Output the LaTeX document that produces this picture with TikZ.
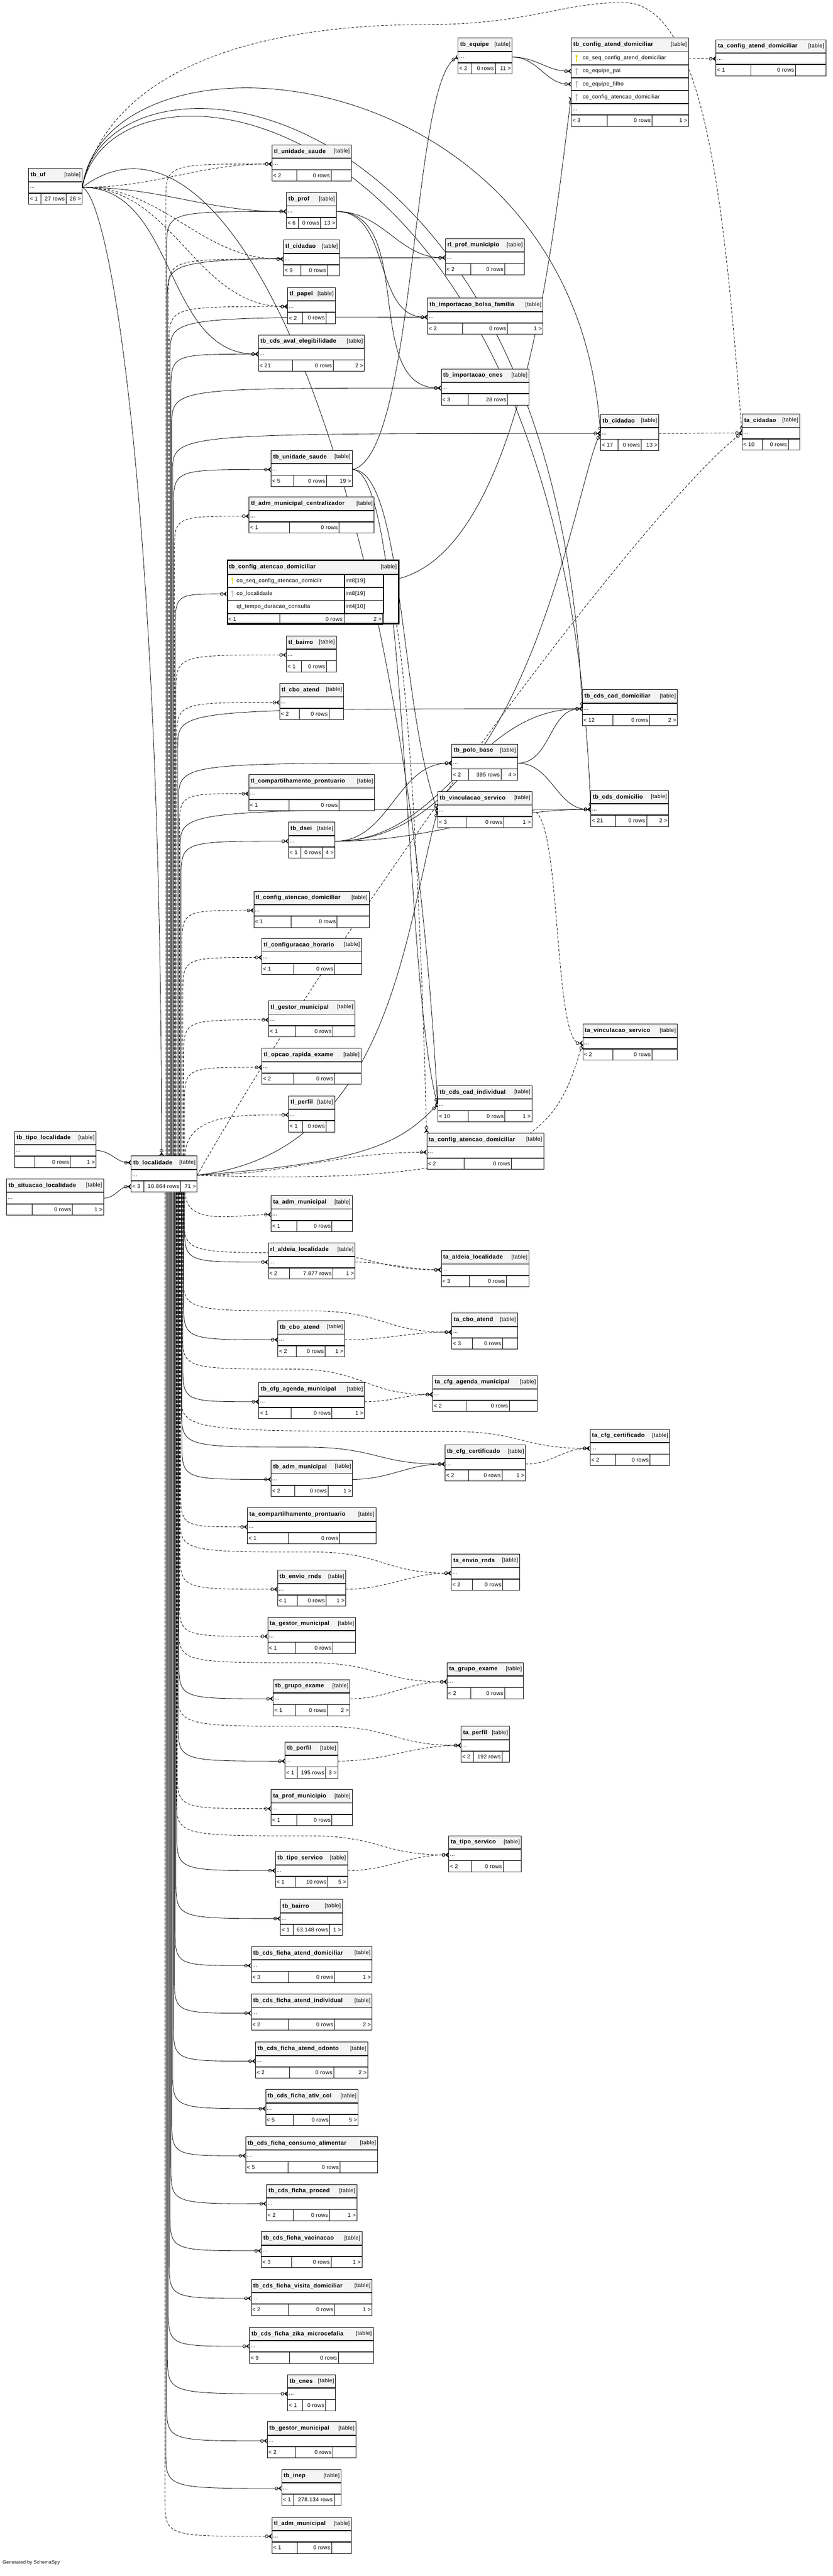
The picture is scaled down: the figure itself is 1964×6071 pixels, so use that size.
\documentclass[tikz,border=0pt]{standalone}
\usepackage{fontspec}
\setmainfont{Liberation Sans}[LetterSpace=3]
\usetikzlibrary{arrows.meta, positioning, calc}
\pgfdeclarelayer{bg}
\pgfdeclarelayer{edges}
\pgfsetlayers{bg,edges,main}

\definecolor{hdrgray}{RGB}{244,244,244}
\definecolor{pkyellow}{RGB}{230,215,0}
\definecolor{fkgray}{RGB}{185,185,185}

\tikzstyle{hdr} = [rectangle, draw=black, line width=1pt, fill=hdrgray, minimum height=31pt, anchor=north west, inner sep=0pt]
\tikzstyle{cell} = [rectangle, draw=black, line width=1pt, fill=white, minimum height=26pt, anchor=north west, inner sep=0pt]
\tikzstyle{fld} = [cell, minimum height=29.5pt]
\tikzstyle{txt} = [inner sep=0pt, font=\fontsize{13}{15}\selectfont]
\tikzstyle{ttl} = [inner sep=0pt, font=\fontsize{13.7}{15}\selectfont\bfseries]
\tikzstyle{divline} = [line width=1pt]
\tikzstyle{fk} = [line width=1pt, -{Circle[open,length=8pt,width=8pt] Stealth[reversed,length=8pt,width=12pt]}]
\tikzstyle{imp} = [fk, dash pattern=on 6pt off 4pt]

% footer cells: id, left, rows, right, split a, split b
\newcommand{\footcells}[6]{%
  \draw[divline] ($(#1-f.north west)+(#5,0)$) -- ($(#1-f.south west)+(#5,0)$);
  \draw[divline] ($(#1-f.north west)+(#6,0)$) -- ($(#1-f.south west)+(#6,0)$);
  \node[txt, anchor=west] (#1-l) at ([xshift=3pt]#1-f.west) {#2};
  \node[txt, anchor=east] (#1-c) at ($(#1-f.west)+(#6-3,0)$) {#3};
  \node[txt, anchor=east] (#1-r) at ([xshift=-3pt]#1-f.east) {#4};
}
% table: id, x, y, width, name, left, rows, right, splits
\newcommand{\tbl}[9]{%
  \node[hdr, minimum width=#4pt] (#1-h) at (#2,#3) {};
  \node[ttl, anchor=west] (#1-n) at ([xshift=5pt]#1-h.west) {#5};
  \node[txt, anchor=east] (#1-k) at ([xshift=-4pt]#1-h.east) {[table]};
  \node[cell, minimum width=#4pt] (#1-d) at (#1-h.south west) {};
  \node[txt, anchor=west] (#1-e) at ([xshift=3pt,yshift=-2pt]#1-d.west) {...};
  \node[cell, minimum width=#4pt] (#1-f) at (#1-d.south west) {};
  \foreach \sa/\sb in {#9} {\footcells{#1}{#6}{#7}{#8}{\sa}{\sb}}
}
\newcommand{\keyicon}[2]{%
  \fill[#1] ([xshift=13pt,yshift=5pt]#2.west) circle (2.6pt);
  \draw[#1, line width=1.5pt] ([xshift=13pt,yshift=5pt]#2.west) -- ([xshift=13pt,yshift=-8pt]#2.west);
}
% bundle line: style, start, end, offset in bundle
\newcommand{\via}[4]{\draw[#1] ([xshift=#4pt]#2) -- ($([xshift=#4pt]#2 |- #3)!90pt!([xshift=#4pt]#2)$) .. controls ([xshift=#4pt]#2 |- #3) .. (#3);}
% bundle line passing over a table: style, start, end, offset, lift
\newcommand{\viab}[5]{\draw[#1] ([xshift=#4pt]#2) -- ($([xshift=#4pt]#2 |- #3)+(0,-#5-90)$) .. controls ($([xshift=#4pt]#2 |- #3)+(0,-#5)$) .. ($(#3)+(-330,-#5)$) .. controls ($(#3)+(-160,-#5)$) and ($(#3)+(-160,0)$) .. (#3);}
\newcommand{\lnk}[3]{\draw[#1] (#2) to[out=0,in=180] (#3);}

\begin{document}
\begin{tikzpicture}[x=1pt, y=-1pt]
\useasboundingbox (0,0) rectangle (1964,6071);
\begin{pgfonlayer}{bg}
\fill[white] (0,0) rectangle (1964,6071);
\end{pgfonlayer}

% Nodes
\tbl{uf}{67}{396}{126}{tb\_uf}{< 1}{27 rows}{26 >}{30/89}
\tbl{equipe}{1080}{89}{127}{tb\_equipe}{< 2}{0 rows}{11 >}{33/88}
\tbl{tacfg}{1688}{93}{259}{ta\_config\_atend\_domiciliar}{< 1}{0 rows}{}{83/188}
\tbl{tlus}{641}{341}{187}{tl\_unidade\_saude}{< 2}{0 rows}{}{59/140}
\tbl{prof}{675}{453}{118}{tb\_prof}{< 6}{0 rows}{13 >}{29/81}
\tbl{tlcid}{668}{565}{132}{tl\_cidadao}{< 9}{0 rows}{}{41/104}
\tbl{papel}{678}{677}{112}{tl\_papel}{< 2}{0 rows}{}{35/91}
\tbl{aval}{609}{789}{250}{tb\_cds\_aval\_elegibilidade}{< 21}{0 rows}{2 >}{81/177}
\tbl{rlpm}{1050}{562}{186}{rl\_prof\_municipio}{< 2}{0 rows}{}{60/140}
\tbl{bolsa}{1008}{702}{272}{tb\_importacao\_bolsa\_familia}{< 2}{0 rows}{1 >}{83/189}
\tbl{icnes}{1040}{869}{207}{tb\_importacao\_cnes}{< 3}{28 rows}{}{64/157}
\tbl{cid}{1416}{976}{137}{tb\_cidadao}{< 17}{0 rows}{13 >}{41/96}
\tbl{tacid}{1750}{975}{136}{ta\_cidadao}{< 10}{0 rows}{}{48/109}
\tbl{us}{639}{1061}{191}{tb\_unidade\_saude}{< 5}{0 rows}{19 >}{54/131}
\tbl{tlamc}{587}{1171}{295}{tl\_adm\_municipal\_centralizador}{< 1}{0 rows}{}{96/213}
\tbl{tlbai}{675}{1498}{118}{tl\_bairro}{< 1}{0 rows}{}{36/95}
\tbl{tlcbo}{659}{1610}{151}{tl\_cbo\_atend}{< 2}{0 rows}{}{47/117}
\tbl{ccd}{1373}{1625}{224}{tb\_cds\_cad\_domiciliar}{< 12}{0 rows}{2 >}{72/159}
\tbl{polo}{1065}{1753}{155}{tb\_polo\_base}{< 2}{395 rows}{4 >}{41/117}
\tbl{tlcp}{586}{1825}{297}{tl\_compartilhamento\_prontuario}{< 1}{0 rows}{}{96/214}
\tbl{vs}{1032}{1865}{222}{tb\_vinculacao\_servico}{< 3}{0 rows}{1 >}{67/156}
\tbl{dom}{1393}{1862}{183}{tb\_cds\_domicilio}{< 21}{0 rows}{2 >}{59/132}
\tbl{dsei}{680}{1937}{109}{tb\_dsei}{< 1}{0 rows}{4 >}{29/81}
\tbl{tlcad}{598}{2100}{272}{tl\_config\_atencao\_domiciliar}{< 1}{0 rows}{}{88/197}
\tbl{tlch}{617}{2211}{235}{tl\_configuracao\_horario}{< 1}{0 rows}{}{75/172}
\tbl{tlgm}{633}{2358}{203}{tl\_gestor\_municipal}{< 1}{0 rows}{}{65/152}
\tbl{tlore}{617}{2470}{234}{tl\_opcao\_rapida\_exame}{< 2}{0 rows}{}{75/172}
\tbl{tlper}{680}{2582}{109}{tl\_perfil}{< 1}{0 rows}{}{33/89}
\tbl{tavs}{1374}{2413}{223}{ta\_vinculacao\_servico}{< 2}{0 rows}{}{71/164}
\tbl{cci}{1032}{2558}{222}{tb\_cds\_cad\_individual}{< 10}{0 rows}{1 >}{72/159}
\tbl{tacad}{1006}{2670}{276}{ta\_config\_atencao\_domiciliar}{< 2}{0 rows}{}{89/200}
\tbl{tipo}{34}{2666}{192}{tb\_tipo\_localidade}{}{0 rows}{1 >}{48/132}
\tbl{sit}{15}{2778}{229}{tb\_situacao\_localidade}{}{0 rows}{1 >}{61/156}
\tbl{loc}{309}{2724}{155}{tb\_localidade}{< 3}{10.864 rows}{71 >}{30/117}
\tbl{taam}{639}{2817}{191}{ta\_adm\_municipal}{< 1}{0 rows}{}{61/144}
\tbl{rlal}{632}{2929}{205}{rl\_aldeia\_localidade}{< 2}{7.877 rows}{1 >}{51/153}
\tbl{taal}{1040}{2947}{207}{ta\_aldeia\_localidade}{< 3}{0 rows}{}{67/154}
\tbl{cbo}{655}{3112}{157}{tb\_cbo\_atend}{< 2}{0 rows}{1 >}{44/112}
\tbl{tacbo}{1065}{3094}{155}{ta\_cbo\_atend}{< 3}{0 rows}{}{49/120}
\tbl{cam}{610}{3258}{249}{tb\_cfg\_agenda\_municipal}{< 1}{0 rows}{1 >}{76/173}
\tbl{tacam}{1020}{3241}{247}{ta\_cfg\_agenda\_municipal}{< 2}{0 rows}{}{79/181}
\tbl{tacc}{1391}{3368}{188}{ta\_cfg\_certificado}{< 2}{0 rows}{}{60/142}
\tbl{cc}{1049}{3405}{190}{tb\_cfg\_certificado}{< 2}{0 rows}{1 >}{56/135}
\tbl{am}{639}{3441}{192}{tb\_adm\_municipal}{< 2}{0 rows}{1 >}{56/135}
\tbl{tacp}{583}{3553}{303}{ta\_compartilhamento\_prontuario}{< 1}{0 rows}{}{98/218}
\tbl{taer}{1064}{3662}{161}{ta\_envio\_rnds}{< 2}{0 rows}{}{50/122}
\tbl{er}{654}{3700}{161}{tb\_envio\_rnds}{< 1}{0 rows}{1 >}{47/115}
\tbl{tagm}{631}{3811}{207}{ta\_gestor\_municipal}{< 1}{0 rows}{}{67/154}
\tbl{tage}{1054}{3918}{180}{ta\_grupo\_exame}{< 2}{0 rows}{}{56/136}
\tbl{ge}{644}{3958}{181}{tb\_grupo\_exame}{< 1}{0 rows}{2 >}{54/128}
\tbl{taper}{1087}{4068}{114}{ta\_perfil}{< 2}{192 rows}{}{29/97}
\tbl{per}{672}{4105}{124}{tb\_perfil}{< 1}{195 rows}{3 >}{29/96}
\tbl{tapm}{639}{4217}{191}{ta\_prof\_municipio}{< 1}{0 rows}{}{61/144}
\tbl{tats}{1058}{4326}{171}{ta\_tipo\_servico}{< 2}{0 rows}{}{54/129}
\tbl{ts}{649}{4363}{170}{tb\_tipo\_servico}{< 1}{10 rows}{5 >}{47/124}
\tbl{bai}{661}{4476}{146}{tb\_bairro}{< 1}{63.148 rows}{1 >}{30/116}
\tbl{fad}{592}{4587}{285}{tb\_cds\_ficha\_atend\_domiciliar}{< 3}{0 rows}{1 >}{88/197}
\tbl{fai}{592}{4699}{285}{tb\_cds\_ficha\_atend\_individual}{< 2}{0 rows}{2 >}{88/197}
\tbl{fao}{602}{4812}{265}{tb\_cds\_ficha\_atend\_odonto}{< 2}{0 rows}{2 >}{81/185}
\tbl{fac}{626}{4924}{218}{tb\_cds\_ficha\_ativ\_col}{< 5}{0 rows}{5 >}{65/152}
\tbl{fca}{579}{5035}{311}{tb\_cds\_ficha\_consumo\_alimentar}{< 5}{0 rows}{}{100/223}
\tbl{fpr}{628}{5148}{213}{tb\_cds\_ficha\_proced}{< 2}{0 rows}{1 >}{63/149}
\tbl{fva}{616}{5259}{237}{tb\_cds\_ficha\_vacinacao}{< 3}{0 rows}{1 >}{72/165}
\tbl{fvd}{592}{5371}{285}{tb\_cds\_ficha\_visita\_domiciliar}{< 2}{0 rows}{1 >}{88/197}
\tbl{fzm}{588}{5484}{292}{tb\_cds\_ficha\_zika\_microcefalia}{< 9}{0 rows}{}{95/210}
\tbl{cnes}{678}{5596}{113}{tb\_cnes}{< 1}{0 rows}{}{35/90}
\tbl{gm}{630}{5707}{209}{tb\_gestor\_municipal}{< 2}{0 rows}{}{67/155}
\tbl{inep}{664}{5819}{140}{tb\_inep}{< 1}{278.134 rows}{}{29/124}
\tbl{tlam}{641}{5932}{187}{tl\_adm\_municipal}{< 1}{0 rows}{}{60/141}

% tb_config_atend_domiciliar (columns shown)
\node[hdr, minimum width=276pt, minimum height=32pt] (cfg-h) at (1347,89) {};
\node[ttl, anchor=west] (cfg-n) at ([xshift=5pt]cfg-h.west) {tb\_config\_atend\_domiciliar};
\node[txt, anchor=east] (cfg-k) at ([xshift=-4pt]cfg-h.east) {[table]};
\node[fld, minimum width=276pt] (cfg-r1) at (cfg-h.south west) {};
\node[fld, minimum width=276pt] (cfg-r2) at (cfg-r1.south west) {};
\node[fld, minimum width=276pt] (cfg-r3) at (cfg-r2.south west) {};
\node[fld, minimum width=276pt] (cfg-r4) at (cfg-r3.south west) {};
\node[cell, minimum width=276pt] (cfg-d) at (cfg-r4.south west) {};
\node[txt, anchor=west] (cfg-e) at ([xshift=3pt,yshift=-2pt]cfg-d.west) {...};
\node[cell, minimum width=276pt] (cfg-f) at (cfg-d.south west) {};
\footcells{cfg}{< 3}{0 rows}{1 >}{85}{191}
\foreach \r/\t/\c in {cfg-r1/co\_seq\_config\_atend\_domiciliar/pkyellow, cfg-r2/co\_equipe\_pai/fkgray, cfg-r3/co\_equipe\_filho/fkgray, cfg-r4/co\_config\_atencao\_domiciliar/fkgray} {
  \node[txt, anchor=west] (\r-t) at ([xshift=27pt]\r.west) {\t};
  \keyicon{\c}{\r}
}

% tb_config_atencao_domiciliar (focus table)
\node[hdr, minimum width=404pt, minimum height=34pt] (cad-h) at (535,1319) {};
\node[ttl, anchor=west] (cad-n) at ([xshift=5pt]cad-h.west) {tb\_config\_atencao\_domiciliar};
\node[txt, anchor=east] (cad-k) at ([xshift=-4pt]cad-h.east) {[table]};
\node[fld, minimum width=276pt] (cad-r1) at (cad-h.south west) {};
\node[fld, minimum width=276pt] (cad-r2) at (cad-r1.south west) {};
\node[fld, minimum width=276pt] (cad-r3) at (cad-r2.south west) {};
\node[fld, minimum width=91pt] (cad-t1) at (cad-r1.north east) {};
\node[fld, minimum width=91pt] (cad-t2) at (cad-r2.north east) {};
\node[fld, minimum width=91pt] (cad-t3) at (cad-r3.north east) {};
\node[cell, minimum width=367pt, minimum height=26.5pt] (cad-f) at (cad-r3.south west) {};
\node[cell, minimum width=37pt, minimum height=115pt] (cad-x) at (cad-t1.north east) {};
\footcells{cad}{< 1}{0 rows}{2 >}{125}{276}
\foreach \r/\t in {cad-r1/co\_seq\_config\_atencao\_domicilr, cad-r2/co\_localidade, cad-r3/qt\_tempo\_duracao\_consulta} {
  \node[txt, anchor=west] (\r-t) at ([xshift=23pt]\r.west) {\t};
}
\node[txt, anchor=west] (cad-t1-t) at ([xshift=3pt]cad-t1.west) {int8[19]};
\node[txt, anchor=west] (cad-t2-t) at ([xshift=3pt]cad-t2.west) {int8[19]};
\node[txt, anchor=west] (cad-t3-t) at ([xshift=3pt]cad-t3.west) {int4[10]};
\keyicon{pkyellow}{cad-r1}
\keyicon{fkgray}{cad-r2}
\node[draw, line width=3pt, minimum width=404pt, minimum height=149pt, anchor=north west, inner sep=0pt] (cad) at (535,1319) {};

\coordinate (loc-in) at ([xshift=-6pt]loc-h.north);
\coordinate (loc-up) at ([xshift=2pt]loc-h.north);
\coordinate (loc-dn) at ([xshift=2pt]loc-f.south);
\coordinate (arc-a) at (1000,58);
\coordinate (arc-b) at (1470,6);

\node[anchor=west, inner sep=0pt, font=\fontsize{11}{13}\selectfont] (gen) at (6,6040) {Generated by SchemaSpy};

% Arrows
\begin{pgfonlayer}{edges}
% from tb_uf
\lnk{imp}{uf-d.east}{tlus-d.west}
\lnk{fk}{uf-d.east}{prof-d.west}
\lnk{imp}{uf-d.east}{tlcid-d.west}
\lnk{imp}{uf-d.east}{papel-d.west}
\lnk{fk}{uf-d.east}{aval-d.west}
\draw[fk] (uf-d.east) .. controls +(60,-410) and +(-60,-900) .. (cid-d.west);
\draw[fk] (uf-d.east) .. controls +(60,-380) and +(-60,-1500) .. (ccd-d.west);
\draw[fk] (uf-d.east) .. controls +(70,-360) and +(-60,-1720) .. (dom-d.west);
\draw[fk] (uf-d.east) .. controls +(350,-260) and +(-80,-1500) .. (cci-d.west);
\draw[fk] (uf-d.east) .. controls +(70,30) and +(0,-1500) .. (loc-in);
\draw[imp] (uf-d.east) .. controls +(70,-300) and +(-350,0) .. (arc-a) .. controls +(250,0) and +(-150,0) .. (arc-b) .. controls +(200,0) and +(-40,-500) .. (tacid-d.west);

% from tb_localidade, upwards
\draw[imp] ([xshift=48pt]loc-up) to[out=90,in=180] (tlper-d.west);
\via{imp}{loc-up}{tlore-d.west}{46}
\via{imp}{loc-up}{tlgm-d.west}{44}
\via{imp}{loc-up}{tlch-d.west}{42}
\via{imp}{loc-up}{tlcad-d.west}{40}
\via{fk}{loc-up}{dsei-d.west}{38}
\via{fk}{loc-up}{dom-d.west}{36}
\via{imp}{loc-up}{tlcp-d.west}{34}
\via{fk}{loc-up}{polo-d.west}{32}
\via{fk}{loc-up}{ccd-d.west}{30}
\via{imp}{loc-up}{tlcbo-d.west}{28}
\via{imp}{loc-up}{tlbai-d.west}{26}
\via{fk}{loc-up}{cad-r2.west}{24}
\via{imp}{loc-up}{tlamc-d.west}{22}
\via{fk}{loc-up}{us-d.west}{20}
\via{fk}{loc-up}{cid-d.west}{18}
\via{fk}{loc-up}{icnes-d.west}{16}
\via{fk}{loc-up}{aval-d.west}{14}
\via{fk}{loc-up}{bolsa-d.west}{12}
\via{imp}{loc-up}{papel-d.west}{10}
\via{imp}{loc-up}{tlcid-d.west}{8}
\via{fk}{loc-up}{rlpm-d.west}{6}
\via{fk}{loc-up}{prof-d.west}{4}
\via{imp}{loc-up}{tlus-d.west}{2}

% from tb_localidade, sideways
\draw[imp] (loc-d.east) .. controls +(400,-700) and +(-200,150) .. (tacid-d.west);
\draw[fk] (loc-d.east) .. controls +(450,-50) and +(-80,300) .. (vs-d.west);
\draw[fk] (loc-d.east) .. controls +(420,-30) and +(-80,80) .. (cci-d.west);
\draw[imp] (loc-d.east) .. controls +(800,30) and +(-60,200) .. (tavs-d.west);
\lnk{imp}{loc-d.east}{tacad-d.west}

% from tb_localidade, downwards
\draw[imp] ([xshift=48pt]loc-dn) to[out=-90,in=180] (taam-d.west);
\via{fk}{loc-dn}{rlal-d.west}{46}
\viab{imp}{loc-dn}{taal-d.west}{45}{40}
\via{fk}{loc-dn}{cbo-d.west}{44}
\viab{imp}{loc-dn}{tacbo-d.west}{43}{50}
\via{fk}{loc-dn}{cam-d.west}{42}
\viab{imp}{loc-dn}{tacam-d.west}{41}{60}
\via{fk}{loc-dn}{am-d.west}{40}
\viab{fk}{loc-dn}{cc-d.west}{39}{40}
\viab{imp}{loc-dn}{tacc-d.west}{38}{40}
\via{imp}{loc-dn}{tacp-d.west}{37}
\via{imp}{loc-dn}{er-d.west}{36}
\viab{imp}{loc-dn}{taer-d.west}{35}{50}
\via{imp}{loc-dn}{tagm-d.west}{34}
\via{fk}{loc-dn}{ge-d.west}{33}
\viab{imp}{loc-dn}{tage-d.west}{32}{45}
\via{fk}{loc-dn}{per-d.west}{31}
\viab{imp}{loc-dn}{taper-d.west}{30}{45}
\via{imp}{loc-dn}{tapm-d.west}{29}
\via{fk}{loc-dn}{ts-d.west}{28}
\viab{imp}{loc-dn}{tats-d.west}{27}{45}
\via{fk}{loc-dn}{bai-d.west}{26}
\via{fk}{loc-dn}{fad-d.west}{24}
\via{fk}{loc-dn}{fai-d.west}{22}
\via{fk}{loc-dn}{fao-d.west}{20}
\via{fk}{loc-dn}{fac-d.west}{18}
\via{fk}{loc-dn}{fca-d.west}{16}
\via{fk}{loc-dn}{fpr-d.west}{14}
\via{fk}{loc-dn}{fva-d.west}{12}
\via{fk}{loc-dn}{fvd-d.west}{10}
\via{fk}{loc-dn}{fzm-d.west}{8}
\via{fk}{loc-dn}{cnes-d.west}{6}
\via{fk}{loc-dn}{gm-d.west}{4}
\via{fk}{loc-dn}{inep-d.west}{2}
\via{imp}{loc-dn}{tlam-d.west}{0}

% into tb_localidade
\lnk{fk}{tipo-d.east}{loc-h.west}
\lnk{fk}{sit-d.east}{loc-f.west}

% other tables
\lnk{fk}{prof-d.east}{rlpm-d.west}
\lnk{fk}{prof-d.east}{bolsa-d.west}
\lnk{fk}{prof-d.east}{icnes-d.west}
\lnk{imp}{cid-d.east}{tacid-d.west}
\draw[fk] (us-d.east) .. controls +(150,-30) and +(-110,60) .. (equipe-d.west);
\draw[fk] (us-d.east) .. controls +(120,0) and +(-90,-250) .. (vs-d.west);
\draw[fk] (us-d.east) .. controls +(130,0) and +(-80,-300) .. (cci-d.west);
\lnk{fk}{equipe-d.east}{cfg-r2.west}
\lnk{fk}{equipe-d.east}{cfg-r3.west}
\lnk{imp}{cfg-r1.east}{tacfg-d.west}
\draw[fk] (cad-t1.east) .. controls +(330,-20) and +(-40,300) .. (cfg-r4.west);
\draw[imp] (cad-t1.east) .. controls +(60,40) and +(-10,-400) .. (tacad-h.north west);
\lnk{fk}{dsei-d.east}{polo-d.west}
\lnk{fk}{dsei-d.east}{ccd-d.west}
\lnk{fk}{dsei-d.east}{dom-d.west}
\draw[fk] (dsei-d.east) .. controls +(450,0) and +(-60,120) .. (cid-d.west);
\lnk{fk}{polo-d.east}{ccd-d.west}
\lnk{fk}{polo-d.east}{dom-d.west}
\draw[imp] (vs-d.east) .. controls +(70,0) and +(-70,0) .. (tavs-d.west);
\lnk{imp}{rlal-d.east}{taal-d.west}
\lnk{imp}{cbo-d.east}{tacbo-d.west}
\lnk{imp}{cam-d.east}{tacam-d.west}
\lnk{fk}{am-d.east}{cc-d.west}
\lnk{imp}{cc-d.east}{tacc-d.west}
\lnk{imp}{er-d.east}{taer-d.west}
\lnk{imp}{ge-d.east}{tage-d.west}
\lnk{imp}{per-d.east}{taper-d.west}
\lnk{imp}{ts-d.east}{tats-d.west}
\end{pgfonlayer}

\end{tikzpicture}
\end{document}
